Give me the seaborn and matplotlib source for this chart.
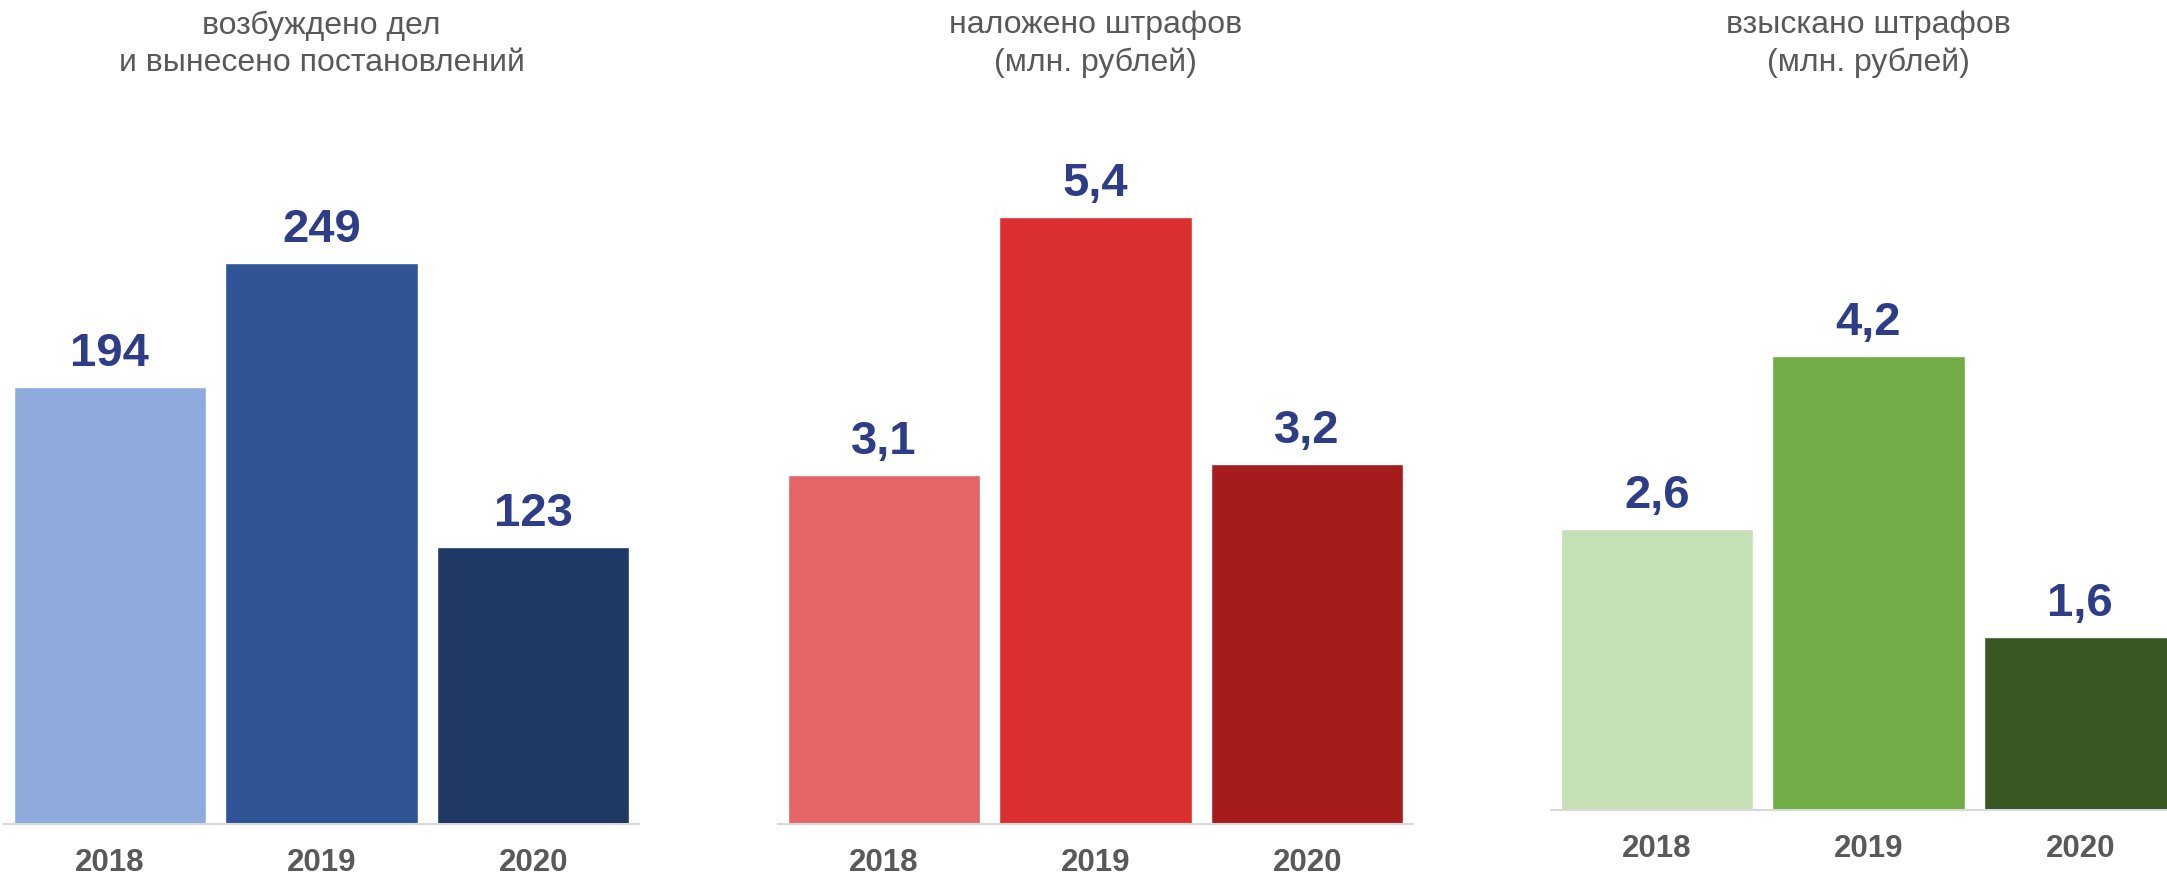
import numpy as np
import pandas as pd
import matplotlib
matplotlib.use('Agg')
import matplotlib.pyplot as plt
import seaborn as sns

years = ['2018', '2019', '2020']
cases = [194, 249, 123]
fines_imposed = [3.1, 5.4, 3.2]
fines_collected = [2.6, 4.2, 1.6]

titles = ['возбуждено дел\nи вынесено постановлений',
          'наложено штрафов\n(млн. рублей)',
          'взыскано штрафов\n(млн. рублей)']
palettes = [['#8FAADC', '#2F5597', '#203864'],
            ['#E46565', '#DB2F31', '#A61B1C'],
            ['#C5E0B4', '#70AD47', '#385723']]
label_fmt = ['{:.0f}', '{:.1f}', '{:.1f}']

sns.set_theme(style='white')
plt.rcParams['font.family'] = ['Liberation Sans', 'DejaVu Sans']

fig = plt.figure(figsize=(21.67, 8.75), dpi=100)
W, H = 2167, 875
# axes boxes in pixels: left, baseline, width, top
boxes = [(4, 824, 635, 120), (778, 824, 635, 120), (1551, 810, 635, 120)]
ymax = [312.5, 6.26, 6.39]

for i, vals in enumerate([cases, fines_imposed, fines_collected]):
    l, b, w, t = boxes[i]
    ax = fig.add_axes([l / W, (H - b) / H, w / W, (b - t) / H])
    df = pd.DataFrame({'year': years, 'value': vals})
    sns.barplot(df, x='year', y='value', hue='year', palette=palettes[i],
                width=0.91, saturation=1, legend=False, ax=ax)
    ax.set_ylim(0, ymax[i])
    ax.set_xlim(-0.5, 2.5)
    for c in ax.containers:
        ax.bar_label(c, labels=[label_fmt[i].format(v).replace('.', ',') for v in c.datavalues],
                     padding=8, fontsize=34, fontweight='bold', color='#2E3D87')
    ax.set_xlabel('')
    ax.set_ylabel('')
    ax.set_yticks([])
    for s in ['top', 'right', 'left']:
        ax.spines[s].set_visible(False)
    ax.spines['bottom'].set_color('#D9D9D9')
    ax.spines['bottom'].set_linewidth(1.5)
    ax.tick_params(axis='x', length=0, pad=17, labelsize=22.5, labelcolor='#595959')
    for lbl in ax.get_xticklabels():
        lbl.set_fontweight('bold')
    ax.annotate(titles[i], xy=(0.5, 1 - 44 / H), xycoords=('axes fraction', 'figure fraction'),
                ha='center', va='center', fontsize=23, color='#595959', linespacing=1.3,
                annotation_clip=False)

fig.savefig('out.png', dpi=100)
